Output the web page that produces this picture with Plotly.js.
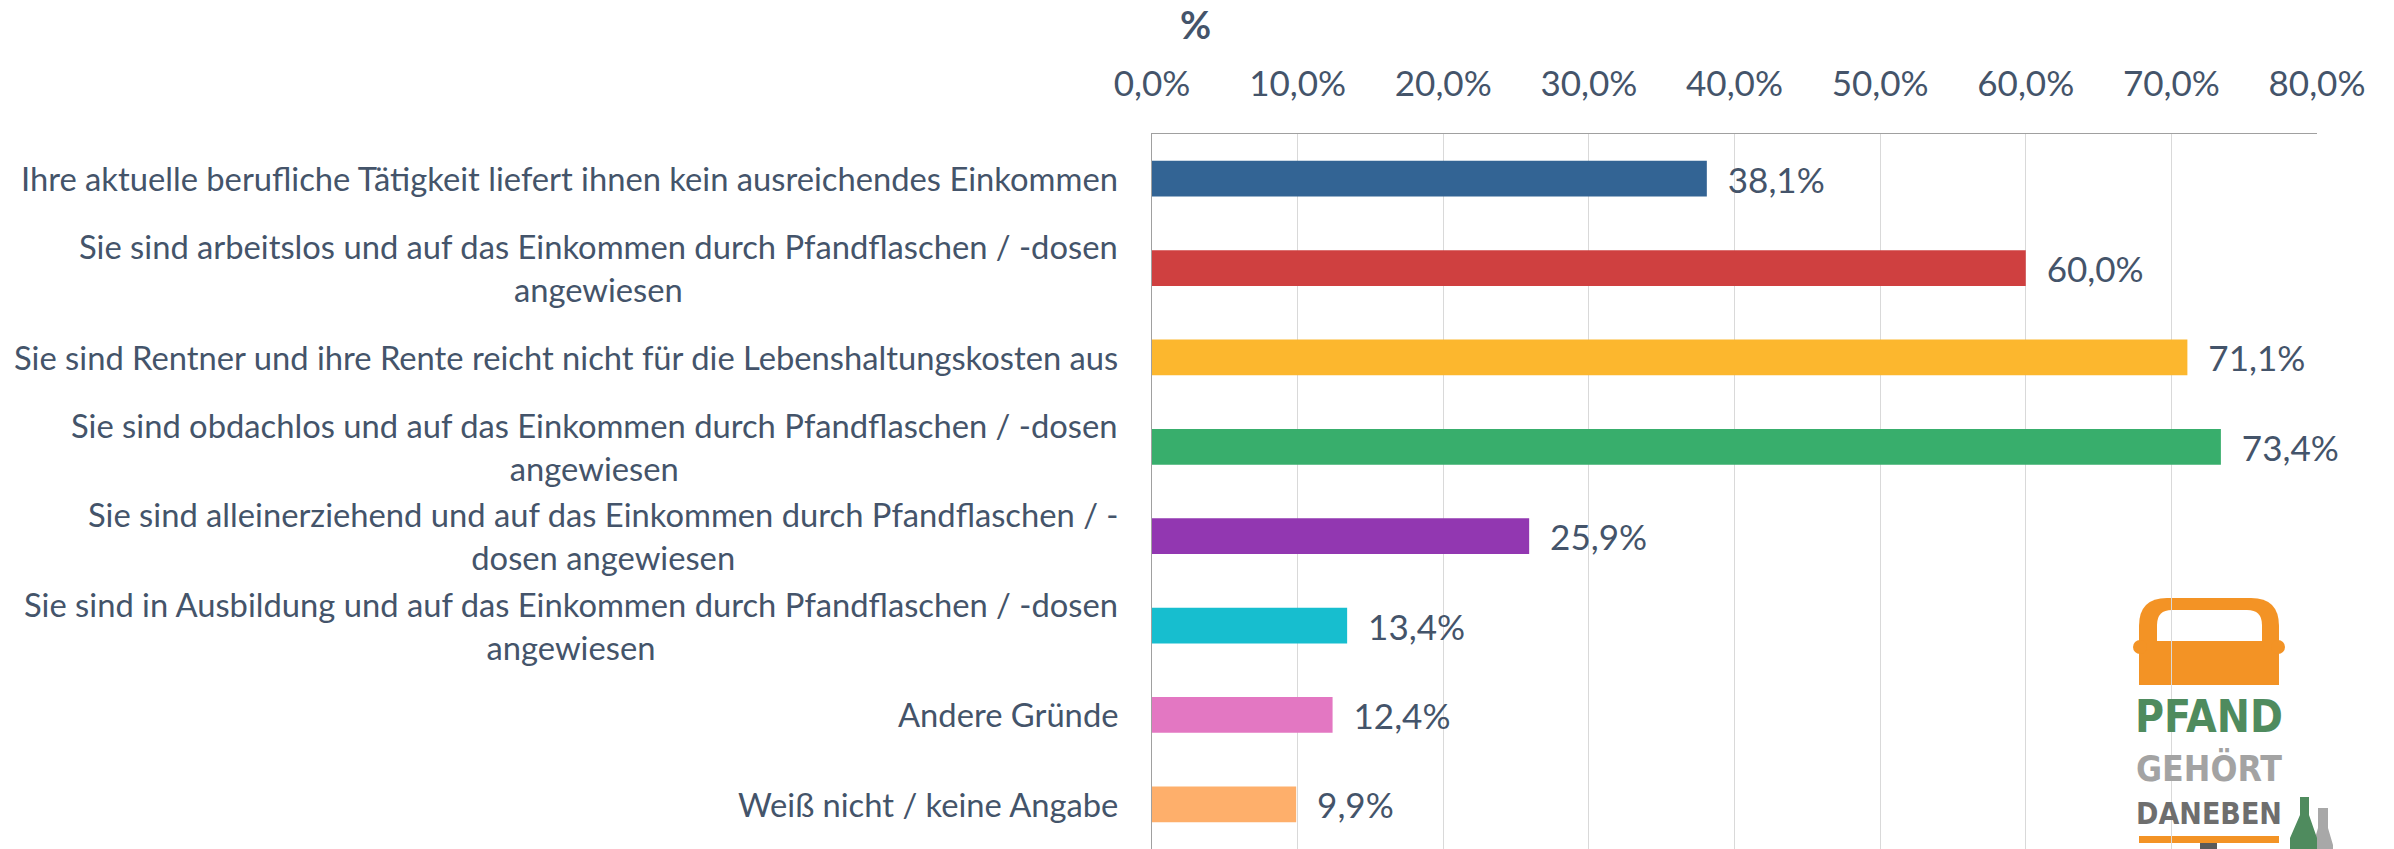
<!DOCTYPE html>
<html><head><meta charset="utf-8">
<script src="https://cdn.plot.ly/plotly-3.0.1.min.js"></script>
<style>html,body{margin:0;padding:0;background:#fff;}#chart{width:2394px;height:849px;}</style>
</head><body><div id="chart"></div>
<script>
const categories = [
  "Ihre aktuelle berufliche Tätigkeit liefert ihnen kein ausreichendes Einkommen",
  "Sie sind arbeitslos und auf das Einkommen durch Pfandflaschen / -dosen<br>angewiesen",
  "Sie sind Rentner und ihre Rente reicht nicht für die Lebenshaltungskosten aus",
  "Sie sind obdachlos und auf das Einkommen durch Pfandflaschen / -dosen<br>angewiesen",
  "Sie sind alleinerziehend und auf das Einkommen durch Pfandflaschen / -<br>dosen angewiesen",
  "Sie sind in Ausbildung und auf das Einkommen durch Pfandflaschen / -dosen<br>angewiesen",
  "Andere Gründe",
  "Weiß nicht / keine Angabe"
];
const values = [38.1, 60.0, 71.1, 73.4, 25.9, 13.4, 12.4, 9.9];
const barColors = ["#336494", "#CF4040", "#FCB72E", "#38AE6C", "#9237B1", "#17BECF", "#E377C2", "#FEAF6B"];
const tickValues = [0, 10, 20, 30, 40, 50, 60, 70, 80];
const tickLabels = ["0,0%", "10,0%", "20,0%", "30,0%", "40,0%", "50,0%", "60,0%", "70,0%", "80,0%"];
const axisTitle = "%";

const W = 2394, H = 849;
const M = {l: 1152, r: 77, t: 134, b: 0};
const PW = W - M.l - M.r, PH = H - M.t - M.b;
const X = px => (px - M.l) / PW;
const Y = py => (H - M.b - py) / PH;

const textColor = "#44546A";
const family = 'Lato, "Liberation Sans", Arial, sans-serif';
const narrowBold = '"DejaVu Sans Condensed", "Liberation Sans", Arial, sans-serif';

// fit font sizes to the widths seen in the reference
const ctx = document.createElement("canvas").getContext("2d");
function widthAt(txt, size, fam, weight) {
  ctx.font = (weight || "normal") + " " + size + "px " + fam;
  return ctx.measureText(txt).width;
}
const labelSize = Math.min(38, 36 * 1098 / widthAt(categories[0], 36, family));
const numSize = Math.min(36, 36 * 97 / widthAt("80,0%", 36, family));

const fmt = v => "\u00a0\u00a0" + v.toFixed(1).replace(".", ",") + "%";

const trace = {
  type: "bar",
  orientation: "h",
  y: categories,
  x: values,
  width: 0.4,
  marker: {color: barColors},
  text: values.map(fmt),
  textposition: "outside",
  constraintext: "none",
  cliponaxis: false,
  textfont: {family: family, size: numSize, color: textColor},
  hoverinfo: "none"
};

const annotations = categories.map(c => ({
  xref: "paper", yref: "y", x: 0, y: c, xanchor: "right", yanchor: "middle",
  xshift: -32, align: "center", showarrow: false, text: c,
  font: {family: family, size: labelSize, color: textColor}
}));

annotations.push({
  xref: "paper", yref: "paper", x: X(1195), y: Y(24), xanchor: "center", yanchor: "middle",
  showarrow: false, text: "<b>" + axisTitle + "</b>", font: {family: family, size: 38, color: textColor}
});

// Logo text
const logoText = [
  {t: "PFAND", cy: 716, w: 148, max: 60, color: "#4F8B5E"},
  {t: "GEHÖRT", cy: 768, w: 146, max: 46, color: "#A3A3A3"},
  {t: "DANEBEN", cy: 813, w: 146, max: 42, color: "#6E6E6E"}
];
logoText.forEach(o => {
  const s = Math.min(o.max, 40 * o.w / widthAt(o.t, 40, narrowBold, "bold"));
  annotations.push({
    xref: "paper", yref: "paper", x: X(2209), y: Y(o.cy), xanchor: "center", yanchor: "middle",
    showarrow: false, text: "<b>" + o.t + "</b>", font: {family: narrowBold, size: s, color: o.color}
  });
});

const P = (pts) => pts.map((p, i) => (p[0] === "Q" ? "Q" + X(p[1]) + "," + Y(p[2]) + " " + X(p[3]) + "," + Y(p[4]) : (i === 0 ? "M" : "L") + X(p[0]) + "," + Y(p[1]))).join(" ") + " Z";
const orange = "#F39325";
const shapes = [
  {type: "path", xref: "paper", yref: "paper", layer: "below", line: {width: 0}, fillcolor: orange,
   path: P([[2139, 685], [2139, 626], ["Q", 2139, 598, 2167, 598], [2251, 598], ["Q", 2279, 598, 2279, 626], [2279, 685]])},
  {type: "path", xref: "paper", yref: "paper", layer: "below", line: {width: 0}, fillcolor: "#ffffff",
   path: P([[2157, 641], [2157, 625], ["Q", 2157, 610, 2172, 610], [2247, 610], ["Q", 2262, 610, 2262, 625], [2262, 641]])},
  {type: "circle", xref: "paper", yref: "paper", layer: "below", line: {width: 0}, fillcolor: orange,
   x0: X(2133), x1: X(2147), y0: Y(654), y1: Y(640)},
  {type: "circle", xref: "paper", yref: "paper", layer: "below", line: {width: 0}, fillcolor: orange,
   x0: X(2271), x1: X(2285), y0: Y(654), y1: Y(640)},
  {type: "rect", xref: "paper", yref: "paper", layer: "below", line: {width: 0}, fillcolor: orange,
   x0: X(2139), x1: X(2279), y0: Y(843), y1: Y(836)},
  {type: "rect", xref: "paper", yref: "paper", layer: "below", line: {width: 0}, fillcolor: "#5A5A5A",
   x0: X(2200), x1: X(2217), y0: Y(849), y1: Y(843)},
  {type: "path", xref: "paper", yref: "paper", layer: "below", line: {width: 0}, fillcolor: "#A8A8A8",
   path: P([[2318, 808], [2328, 808], [2328, 828], [2333, 845], [2333, 849], [2313, 849], [2313, 845], [2318, 828]])},
  {type: "path", xref: "paper", yref: "paper", layer: "below", line: {width: 0}, fillcolor: "#4F8B5E",
   path: P([[2300, 797], [2309, 797], [2309, 815], [2317, 838], [2317, 849], [2290, 849], [2290, 838], [2300, 815]])}
];

const layout = {
  width: W, height: H,
  margin: M,
  paper_bgcolor: "#ffffff", plot_bgcolor: "#ffffff",
  showlegend: false,
  xaxis: {
    side: "top", range: [0, 80], tickvals: tickValues, ticktext: tickLabels,
    showgrid: true, gridcolor: "#D9D9D9", gridwidth: 1,
    zeroline: false, showline: true, linecolor: "#A0A0A0", linewidth: 1.5,
    ticks: "", ticklabelstandoff: 22,
    tickfont: {family: family, size: numSize, color: textColor},
    fixedrange: true
  },
  yaxis: {
    autorange: "reversed", showticklabels: false, ticks: "",
    showgrid: false, zeroline: false, showline: true, linecolor: "#A0A0A0", linewidth: 1.5,
    fixedrange: true
  },
  annotations: annotations,
  shapes: shapes
};

Plotly.newPlot("chart", [trace], layout, {staticPlot: true, displayModeBar: false});
</script>
</body></html>
